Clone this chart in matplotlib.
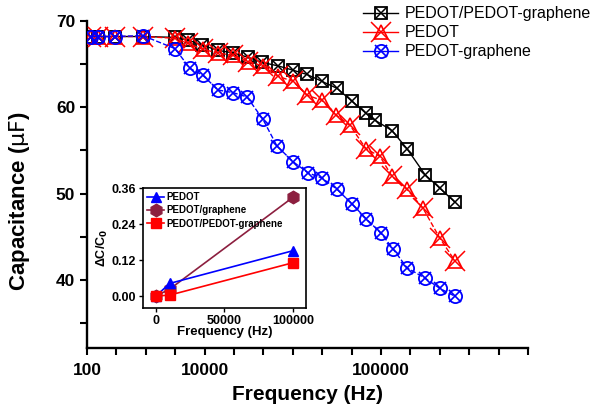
import matplotlib
matplotlib.use("Agg")
import matplotlib.pyplot as plt
from matplotlib.lines import Line2D
from matplotlib.legend_handler import HandlerTuple

plt.rcParams['font.family'] = ['Liberation Sans', 'DejaVu Sans']

# main plot: capacitance vs frequency
freq_pp = [110, 130, 194, 374, 796, 1082, 1505, 2194, 3125, 4450, 6190, 9030,
           12860, 17890, 25480, 36280, 51700, 71900, 88900, 132700, 189000,
           289000, 411500, 586100]
cap_pp = [68.2, 68.2, 68.2, 68.2, 68.1, 67.8, 67.2, 66.6, 66.3, 65.8, 65.2, 64.8,
          64.3, 63.8, 63.0, 62.2, 60.7, 59.3, 58.5, 57.3, 55.2, 52.2, 50.6, 49.0]

freq_pedot = [110, 130, 194, 374, 796, 1082, 1541, 2194, 3125, 4450, 6339, 9030,
              12860, 17890, 25480, 35440, 49300, 71900, 100000, 132700, 189000,
              275700, 411500, 586100]
cap_pedot = [68.2, 68.2, 68.2, 68.2, 68.0, 67.4, 66.7, 66.3, 66.0, 65.3, 64.8, 63.6,
             63.0, 61.4, 60.8, 59.1, 57.9, 55.2, 54.3, 52.0, 50.5, 48.3, 44.8, 42.2]

freq_pg = [110, 130, 194, 374, 796, 1134, 1541, 2194, 3125, 4347, 6339, 8820,
           12860, 18320, 25480, 36280, 51700, 71900, 102400, 135900, 189000,
           289000, 411500, 586100]
cap_pg = [68.2, 68.2, 68.2, 68.3, 66.8, 64.5, 63.7, 62.0, 61.7, 61.2, 58.6, 55.5,
          53.7, 52.4, 51.8, 50.5, 48.8, 47.1, 45.4, 43.6, 41.4, 40.2, 39.0, 38.1]

x_ticks = [100, 1600, 102400]
x_ticklabels = ['100', '10000', '100000']

# inset: relative change
ins_freq = [0, 10000, 100000]
ins_pedot = [0.0, 0.042, 0.151]
ins_pg = [0.0, 0.023, 0.329]
ins_pp = [0.0, 0.003, 0.111]

fig = plt.figure(figsize=(5.97, 4.09), dpi=100)
ax = fig.add_axes([0.1457, 0.1491, 0.7387, 0.7996])

# marker styles (open marker + cross on top)
sq = dict(marker='s', ms=8.5, mfc='none', mew=1.3)
sq_x = dict(marker='x', ms=8.5, mew=1.1)
tri = dict(marker='^', ms=10, mfc='none', mew=1.2)
tri_x = dict(marker='x', ms=15, mew=1.1)
circ = dict(marker='o', ms=9.5, mfc='none', mew=1.3)
circ_x = dict(marker='x', ms=9, mew=1.2)

ax.plot(freq_pp, cap_pp, '-', color='black', lw=1.0, zorder=3, **sq)
ax.plot(freq_pp, cap_pp, ls='none', color='black', zorder=3, **sq_x)

ax.plot(freq_pedot, cap_pedot, '--', color='red', lw=1.0, zorder=4, **tri)
ax.plot(freq_pedot, cap_pedot, ls='none', color='red', zorder=4, **tri_x)

ax.plot(freq_pg, cap_pg, '--', color='blue', lw=1.0, zorder=5, **circ)
ax.plot(freq_pg, cap_pg, ls='none', color='blue', zorder=5, **circ_x)

ax.set_xscale('log')
ax.set_xlim(100, 100 * 2 ** 15)
ax.set_ylim(32.1, 70)
ax.set_xticks(x_ticks)
ax.set_xticklabels(x_ticklabels)
ax.set_xticks([100 * 2 ** k for k in range(16)], minor=True)
ax.xaxis.set_minor_formatter(plt.NullFormatter())
ax.set_yticks([40, 50, 60, 70])
ax.set_yticks([35, 45, 55, 65], minor=True)

for s in ['top', 'right']:
    ax.spines[s].set_visible(False)
for s in ['left', 'bottom']:
    ax.spines[s].set_linewidth(1.7)
ax.tick_params(which='both', direction='out', length=5, width=1.5)
ax.tick_params(axis='x', pad=6)
for lab in ax.get_xticklabels() + ax.get_yticklabels():
    lab.set_fontsize(12.5)
    lab.set_fontweight('bold')

ax.set_xlabel('Frequency (Hz)', fontsize=15, fontweight='bold', labelpad=5)
ax.set_ylabel('Capacitance ($\\mathrm{\\mu F}$)', fontsize=16, fontweight='bold')
ax.yaxis.set_label_coords(-0.125, 0.45)

# legend with solid lines, cross drawn over the open marker
h1 = (Line2D([], [], color='black', lw=1.0, **sq),
      Line2D([], [], ls='none', color='black', **sq_x))
h2 = (Line2D([], [], color='red', lw=1.0, **tri),
      Line2D([], [], ls='none', color='red', **tri_x))
h3 = (Line2D([], [], color='blue', lw=1.0, **circ),
      Line2D([], [], ls='none', color='blue', **circ_x))
fig.legend([h1, h2, h3], ['PEDOT/PEDOT-graphene', 'PEDOT', 'PEDOT-graphene'],
           handler_map={tuple: HandlerTuple(ndivide=1)},
           loc='upper left', bbox_to_anchor=(0.608, 0.985), frameon=False,
           fontsize=11.5, handlelength=2.2, handletextpad=0.4, labelspacing=0.25,
           borderpad=0, borderaxespad=0)

# inset
ins = fig.add_axes([0.2395, 0.2469, 0.2730, 0.2934])
ins.plot(ins_freq, ins_pedot, '-', color='blue', marker='^', ms=7, lw=1.2,
         label='PEDOT', zorder=3)
ins.plot(ins_freq, ins_pg, '-', color='#8c1f3f', marker='h', ms=9, lw=1.2,
         label='PEDOT/graphene', zorder=2)
ins.plot(ins_freq, ins_pp, '-', color='red', marker='s', ms=6.5, lw=1.2,
         label='PEDOT/PEDOT-graphene', zorder=4)
ins.set_xlim(-9500, 109500)
ins.set_ylim(-0.04, 0.36)
ins.set_xticks([0, 50000, 100000])
ins.set_yticks([0.0, 0.12, 0.24, 0.36])
ins.set_yticklabels(['0.00', '0.12', '0.24', '0.36'])
for s in ins.spines.values():
    s.set_linewidth(1.2)
ins.tick_params(direction='out', length=3, width=1.0, pad=2)
for lab in ins.get_xticklabels() + ins.get_yticklabels():
    lab.set_fontsize(9)
    lab.set_fontweight('bold')
ins.set_xlabel('Frequency (Hz)', fontsize=9.5, fontweight='bold', labelpad=-1)
ins.set_ylabel('\u0394C/C$_\\mathbf{0}$', fontsize=9, fontweight='bold', labelpad=1)
ins.legend(loc='upper left', frameon=False, prop={'size': 7, 'weight': 'bold'},
           handlelength=1.8, handletextpad=0.2, labelspacing=0.35,
           borderpad=0.3, borderaxespad=0.1)

fig.savefig('out.png', dpi=100)
